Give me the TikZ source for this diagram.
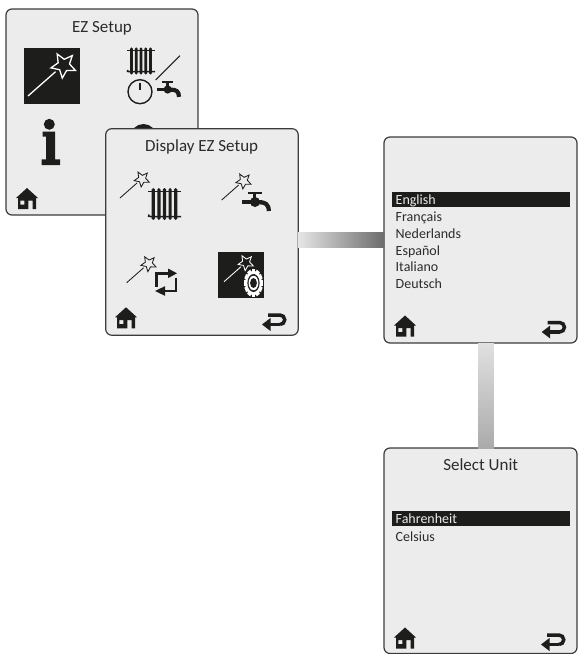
\documentclass[tikz,border=0pt]{standalone}
\usepackage{fontspec}
\setmainfont{Carlito}
\definecolor{panelfill}{HTML}{ECECEC}
\definecolor{panelline}{HTML}{3C3C3C}
\definecolor{ink}{HTML}{1D1D1B}
\definecolor{txt}{HTML}{2B2B2B}
\tikzset{
  panel/.style={draw=panelline,fill=panelfill,line width=1.2pt,rounded corners=6pt,inner sep=0pt,outer sep=0pt,anchor=north west},
  titletext/.style={text=txt,font=\fontsize{17}{20}\selectfont,anchor=base,inner sep=0pt},
  listtext/.style={text=txt,font=\fontsize{14}{17}\selectfont,anchor=base west,inner sep=0pt},
  seltext/.style={listtext,text=panelfill},
  wandline/.style={line width=0.85pt},
  homeicon/.pic={
    \fill[ink,even odd rule] (0,0) -- (11,10) -- (9,10) -- (9,21) -- (5.7,21) -- (5.7,12.7) -- (1.3,12.7) -- (1.3,21) -- (-9,21) -- (-9,10) -- (-11,10) -- cycle
      (-6.7,12.7) rectangle (-2.7,16.7);
  },
  backicon/.pic={
    \draw[ink,line width=3.5pt] (6,-9.5) -- (18,-9.5) arc[start angle=-90,end angle=90,radius=4.75,y=1pt] ;
    \draw[ink,line width=3.5pt] (18,0) -- (7,0);
    \fill[ink] (0,0) -- (8.5,-6.5) -- (8.5,6.5) -- cycle;
  },
  wand/.pic={
    \draw[wandline] (0,0) -- (17,-15);
    \begin{scope}[shift={(22,-19)}]
      \draw[wandline] (-120:8) -- (-84:3.7) -- (-48:8) -- (-12:3.7) -- (24:8) -- (60:3.7) -- (96:8) -- (132:3.7) -- (168:8) -- (204:3.7) -- cycle;
    \end{scope}
  },
  radiator/.pic={
    \foreach \bx in {-11.2,-5.6,0,5.6,11.2}{
      \fill[ink] (\bx-1.6,-14.5) -- (\bx,-16) -- (\bx+1.6,-14.5) -- (\bx+1.6,14.5) -- (\bx,16) -- (\bx-1.6,14.5) -- cycle;
    }
    \draw[ink,line width=1.5pt] (-16.5,-12.5) -- (16.5,-12.5);
    \draw[ink,line width=1.5pt] (-15.5,10.5) .. controls (-16.5,12.5) and (-16,12.5) .. (-14,12.5) -- (16.5,12.5);
  },
  faucet/.pic={
    \fill[ink] (-8.3,-10.5) rectangle (5.7,-8);
    \fill[ink] (-2.7,-9) rectangle (0.3,-3);
    \fill[ink] (-1,0) circle[radius=5];
    \fill[ink] (-14,-2) rectangle (6,2.2);
    \draw[ink,line width=4.2pt] (3,0.2) .. controls (9,0.2) and (12.8,2) .. (12.8,9);
  },
  clock/.pic={
    \draw[ink,line width=1.4pt] (0,0) circle[radius=12];
    \draw[ink,line width=1.3pt] (0,-9) -- (0,-1.5);
  },
  infoicon/.pic={
    \fill[ink] (0,0) circle[radius=5.5];
    \fill[ink] (-6.6,7.4) -- (5.7,7.4) -- (5.7,35) -- (10.7,35) -- (10.7,40.7) -- (-7.6,40.7) -- (-7.6,35) -- (-3.3,35) -- (-3.3,12.4) -- (-6.6,12.4) -- cycle;
  },
  loopicon/.pic={
    \draw[ink,line width=2.6pt,line cap=butt] (1.3,18) -- (1.3,4.3) -- (14,4.3);
    \fill[ink] (22,4.3) -- (13,-0.5) -- (13,9.1) -- cycle;
    \draw[ink,line width=2.6pt,line cap=butt] (21,8.5) -- (21,22) -- (9,22);
    \fill[ink] (0,22) -- (10,17.2) -- (10,26.8) -- cycle;
  },
  gearicon/.pic={
    \begin{scope}[xscale=0.68]
      \foreach \ga in {0,30,...,330}{
        \fill[white,rotate=\ga] (-2.6,-14) rectangle (2.6,-9);
      }
      \fill[white] (0,0) circle[radius=12.3];
      \fill[ink] (0,0) circle[radius=9];
      \fill[white] (0,0) circle[radius=7.2];
      \fill[ink] (0,0) circle[radius=5];
    \end{scope}
  }
}
\begin{document}
\begin{tikzpicture}[x=1pt,y=-1pt]
\useasboundingbox (0,0) rectangle (580,654);
\fill[white] (0,0) rectangle (580,654);
% panel 1
\node[panel,minimum width=192pt,minimum height=206pt] (p1) at (6,9) {};
\node[titletext] (t1) at (102,32) {EZ Setup};
\fill[ink] (24,48) rectangle (80,104);
\pic[color=white,scale=1.62,wandline/.style={line width=1.3pt}] at (28,96) {wand};
\pic[scale=0.85] at (141,61) {radiator};
\pic at (140,91.7) {clock};
\draw[ink,line width=1pt] (155.7,80) -- (180,55.7);
\pic[scale=0.82] at (168.5,89.5) {faucet};
\pic at (49.3,124.3) {infoicon};
\fill[ink] (143.5,137) circle[radius=13];
\pic at (27,188) {homeicon};
% panel 2
\node[panel,minimum width=192.5pt,minimum height=206.5pt] (p2) at (105.7,128.7) {};
\node[titletext] (t2) at (201.7,151) {Display EZ Setup};
\pic[color=ink] at (120,198) {wand};
\pic at (164.5,204) {radiator};
\pic[color=ink] at (221.7,200) {wand};
\pic at (256,202) {faucet};
\pic[color=ink] at (126.7,282.7) {wand};
\pic at (155,269) {loopicon};
\fill[ink] (218,252) rectangle (264,298);
\pic[color=white] at (224,281.7) {wand};
\pic at (253.5,283) {gearicon};
\pic at (126,307.3) {homeicon};
\pic at (262,324.5) {backicon};
% panel 3
\node[panel,minimum width=193pt,minimum height=206pt] (p3) at (384,137) {};
\fill[ink] (392,192) rectangle (570,207);
\node[seltext] (l1) at (395.5,204) {English};
\node[listtext] (l2) at (395.5,221.7) {Français};
\node[listtext] (l3) at (395.5,238.3) {Nederlands};
\node[listtext] (l4) at (395.5,255) {Español};
\node[listtext] (l5) at (395.5,271.3) {Italiano};
\node[listtext] (l6) at (395.5,288) {Deutsch};
\pic at (405,315.5) {homeicon};
\pic at (541.7,332) {backicon};
% panel 4
\node[panel,minimum width=193pt,minimum height=205.5pt] (p4) at (384,448) {};
\node[titletext] (t4) at (480.7,470.7) {Select Unit};
\fill[ink] (392,511) rectangle (570,526);
\node[seltext] (u1) at (395.5,523) {Fahrenheit};
\node[listtext] (u2) at (395.5,541) {Celsius};
\pic at (405,627.5) {homeicon};
\pic at (541,644.5) {backicon};
% connectors
\shade[left color=black!10,right color=black!58] ([yshift=7.5pt]p2.east |- p3.west) rectangle ([yshift=-7.5pt]p3.west);
\shade[top color=black!12,bottom color=black!33] ([xshift=-2.5pt]p3.south) rectangle ([xshift=13.3pt]p4.north);
\end{tikzpicture}
\end{document}
